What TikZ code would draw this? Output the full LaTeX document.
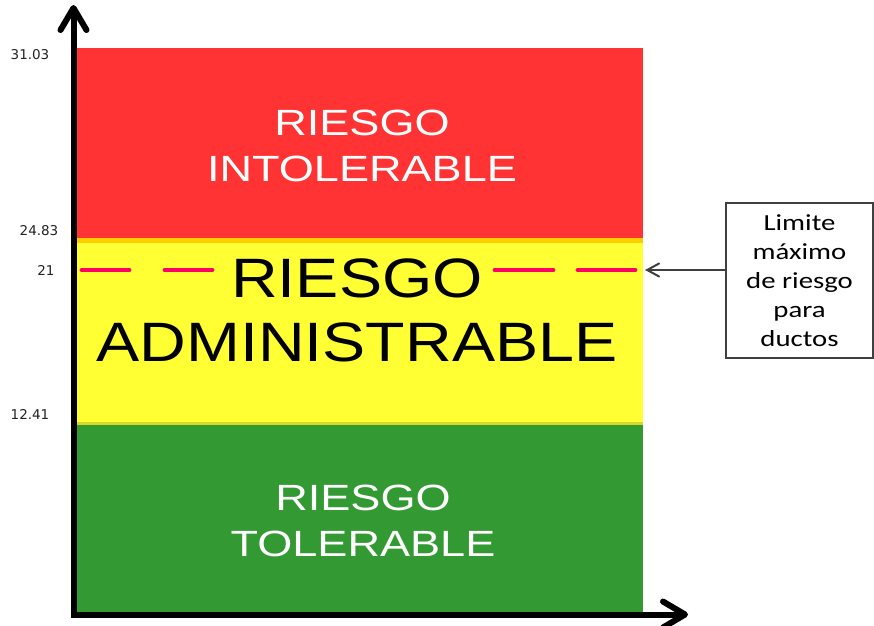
\documentclass[tikz,border=0pt]{standalone}
\usepackage{fontspec}
\setmainfont{Liberation Sans}
\newfontfamily\bandwhite[FakeStretch=1.235]{Liberation Sans}
\newfontfamily\bandblack[FakeStretch=1.165]{Liberation Sans}
\newfontfamily\notefont[FakeStretch=1.25]{Carlito}
\newfontfamily\tickfont{DejaVu Sans}
\usetikzlibrary{arrows.meta}

\definecolor{riskred}{HTML}{FF3333}
\definecolor{riskyellow}{HTML}{FFFF33}
\definecolor{riskgold}{HTML}{FFCC00}
\definecolor{riskolive}{HTML}{D8D82A}
\definecolor{riskgreen}{HTML}{339933}
\definecolor{limitpink}{HTML}{FF0066}
\definecolor{tickgray}{HTML}{222222}
\definecolor{notegray}{HTML}{404040}

\tikzset{
  axisline/.style={line width=6pt, line join=miter,
    {Straight Barb[length=22pt,width=26pt,line cap=round,line join=round]}-{Straight Barb[length=22pt,width=26pt,line cap=round,line join=round]}},
  limitline/.style={limitpink, line width=4.8pt, line cap=round},
  whitelabel/.style={text=white, align=center,
    font=\bandwhite\fontsize{36.5}{46}\selectfont, inner sep=0pt},
  blacklabel/.style={text=black, align=center,
    font=\bandblack\fontsize{55.5}{64}\selectfont, inner sep=0pt},
  ticklabel/.style={text=tickgray, font=\tickfont\fontsize{13.5}{16}\selectfont, inner sep=0pt},
  notebox/.style={draw=notegray, line width=1.2pt, fill=white, align=center,
    minimum width=147pt, minimum height=155pt, inner sep=0pt,
    font=\notefont\fontsize{23}{29}\selectfont},
  notearrow/.style={notegray, line width=2pt,
    -{Straight Barb[length=12pt,width=13pt,line cap=round]}}
}

\begin{document}
\begin{tikzpicture}[x=1pt,y=-1pt]
\useasboundingbox (0,0) rectangle (874,625);

% risk bands
\fill[riskred] (74,48) rectangle (643,238);
\fill[riskyellow] (74,238) rectangle (643,424);
\fill[riskgold] (77,238) rectangle (643,242.5);
\fill[riskgreen] (74,424) rectangle (643,614);
\fill[riskolive] (77,421.5) rectangle (643,424.5);

% band labels
\node[whitelabel] (intol) at (362,146) {RIESGO\\INTOLERABLE};
\node[blacklabel] (admin) at (357,310.5) {RIESGO\\ADMINISTRABLE};
\node[whitelabel] (tol) at (363,520.5) {RIESGO\\TOLERABLE};

% limit line at 21
\coordinate (limA) at (82,270);
\coordinate (limB) at (212,270);
\coordinate (limC) at (495,270);
\coordinate (limD) at (635,270);
\draw[limitline, dash pattern=on 47pt off 36pt] (limA) -- (limB);
\draw[limitline, dash pattern=on 58pt off 25pt] (limC) -- (limD);

% axes
\coordinate (origin) at (73.5,614.5);
\coordinate (ytop) at (73.5,5);
\coordinate (xend) at (688,614.5);
\draw[axisline] (ytop) -- (origin) -- (xend);

% axis values
\node[ticklabel] (t1) at (30,55) {31.03};
\node[ticklabel] (t2) at (39,231) {24.83};
\node[ticklabel] (t3) at (46,270) {21};
\node[ticklabel] (t4) at (30,414) {12.41};

% annotation
\node[notebox] (note) at (799.5,280.5) {Limite\\máximo\\de riesgo\\para\\ductos};
\coordinate (limtip) at (645,270);
\draw[notearrow] (note.west |- limtip) -- (limtip);
\end{tikzpicture}
\end{document}
